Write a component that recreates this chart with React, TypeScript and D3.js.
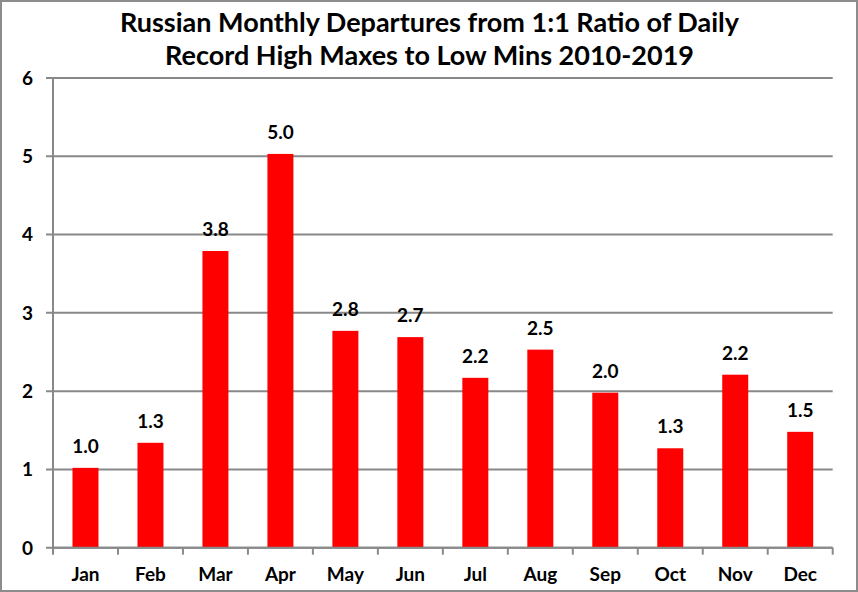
import React from "react";
import * as d3 from "d3";

const months = ["Jan", "Feb", "Mar", "Apr", "May", "Jun", "Jul", "Aug", "Sep", "Oct", "Nov", "Dec"];
const values = [1.02, 1.34, 3.79, 5.03, 2.77, 2.69, 2.17, 2.53, 1.98, 1.27, 2.21, 1.48];
const yTicks = [0, 1, 2, 3, 4, 5, 6];
const titleLines = [
  "Russian Monthly Departures from 1:1 Ratio of Daily",
  "Record High Maxes to Low Mins 2010-2019",
];

const W = 858;
const H = 592;
const left = 53;
const right = 832.7;
const top = 78;
const bottom = 547.7;
const grid = "#898989";
const font = "Lato, 'Open Sans', sans-serif";

export default function App() {
  const x = d3.scaleBand<string>().domain(months).range([left, right]).paddingInner(0.6).paddingOuter(0.3);
  const xb = d3.scaleBand<string>().domain(months).range([left, right]);
  const y = d3.scaleLinear().domain([0, 6]).range([bottom, top]);

  return (
    <svg
      width={W}
      height={H}
      style={{ position: "absolute", left: 0, top: 0, background: "#fff" }}
      fontFamily={font}
    >
      <rect x={1} y={1} width={W - 2} height={H - 2} fill="#fff" stroke="#8c8c8c" strokeWidth={2} />
      {titleLines.map((t, i) => (
        <text key={i} x={W / 2 + 0.5} y={32 + i * 33} textAnchor="middle" fontSize={27} fontWeight="bold" fill="#000">
          {t}
        </text>
      ))}
      {yTicks.map((t) => (
        <g key={t}>
          <line x1={left - 7} x2={right} y1={y(t)} y2={y(t)} stroke={grid} strokeWidth={2} />
          <text x={33} y={y(t)} dy="0.36em" textAnchor="end" fontSize={19} fontWeight="bold" fill="#000">
            {t}
          </text>
        </g>
      ))}
      <line x1={left} x2={left} y1={top} y2={bottom} stroke={grid} strokeWidth={2} />
      {months.map((m, i) => (
        <g key={m}>
          <rect x={x(m)} y={y(values[i])} width={x.bandwidth()} height={bottom - y(values[i])} fill="#ff0000" />
          <text
            x={(x(m) as number) + x.bandwidth() / 2}
            y={y(values[i]) - 15}
            textAnchor="middle"
            fontSize={19}
            fontWeight="bold"
            fill="#000"
          >
            {values[i].toFixed(1)}
          </text>
          <text
            x={(xb(m) as number) + xb.bandwidth() / 2}
            y={581}
            textAnchor="middle"
            fontSize={19}
            fontWeight="bold"
            fill="#000"
          >
            {m}
          </text>
        </g>
      ))}
      <line x1={left} x2={right} y1={bottom} y2={bottom} stroke={grid} strokeWidth={2} />
      {[...months.map((m) => xb(m) as number), right].map((px, i) => (
        <line key={i} x1={px} x2={px} y1={bottom} y2={bottom + 7} stroke={grid} strokeWidth={2} />
      ))}
    </svg>
  );
}
